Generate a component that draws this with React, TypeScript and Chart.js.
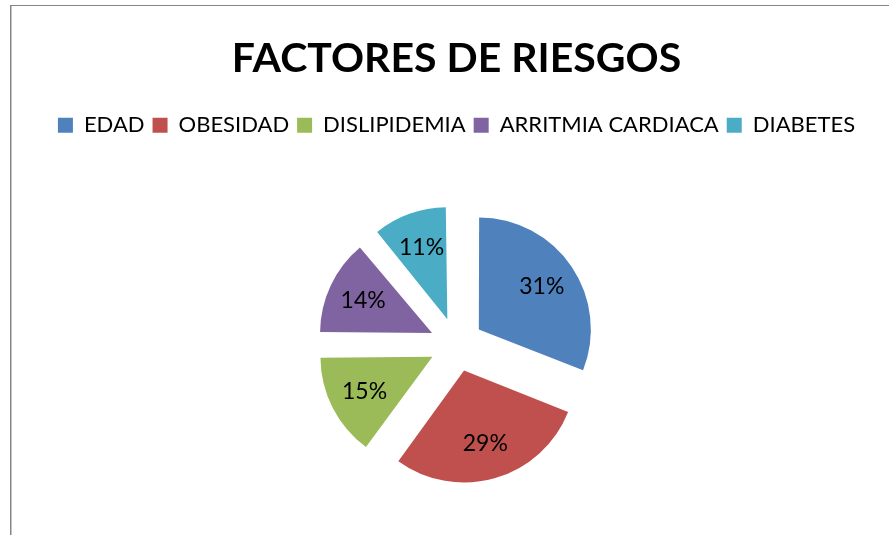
import React, { useEffect, useRef } from "react";
import { Chart, registerables } from "chart.js";

Chart.register(...registerables);

const TITLE = "FACTORES DE RIESGOS";
const categories = ["EDAD", "OBESIDAD", "DISLIPIDEMIA", "ARRITMIA CARDIACA", "DIABETES"];
const percentValues = [31, 29, 15, 14, 11];
const valueLabels = ["31%", "29%", "15%", "14%", "11%"];
const sliceColors = ["#4F81BD", "#C0504D", "#9BBB59", "#8064A2", "#4BACC6"];

const FONT = "Lato, 'Open Sans', sans-serif";

const framePlugin = {
  id: "frame",
  beforeDraw(chart: any) {
    const { ctx, width, height } = chart;
    ctx.save();
    ctx.fillStyle = "#ffffff";
    ctx.fillRect(0, 0, width, height);
    ctx.fillStyle = "#868686";
    ctx.fillRect(0, 5, width, 1);
    ctx.fillRect(0, 5, 1.5, height);
    ctx.restore();
  },
};

// Chart.js enlarges small exploded arcs (offset * (1 - sin(circumference)));
// compensate so every slice keeps the same visible radius.
const equalRadiusPlugin = {
  id: "equalRadius",
  beforeDatasetsDraw(chart: any) {
    const meta = chart.getDatasetMeta(0);
    const base = meta.controller.outerRadius;
    meta.data.forEach((arc: any) => {
      const circ = arc.circumference;
      const fix = 1 - Math.sin(Math.min(Math.PI, circ || 0));
      const shift = (arc.options.offset || 0) / 4;
      arc.outerRadius = base - shift * fix;
    });
  },
};

const sliceLabelPlugin = {
  id: "sliceLabels",
  afterDatasetsDraw(chart: any) {
    const meta = chart.getDatasetMeta(0);
    const base = meta.controller.outerRadius;
    const ctx = chart.ctx;
    ctx.save();
    ctx.font = `23px ${FONT}`;
    ctx.fillStyle = "#000000";
    ctx.textAlign = "center";
    ctx.textBaseline = "middle";
    meta.data.forEach((arc: any, i: number) => {
      const mid = (arc.startAngle + arc.endAngle) / 2;
      const shift = (arc.options.offset || 0) / 4;
      const r = shift + base * 0.68;
      ctx.fillText(valueLabels[i], arc.x + Math.cos(mid) * r, arc.y + Math.sin(mid) * r);
    });
    ctx.restore();
  },
};

export default function App() {
  const ref = useRef<HTMLCanvasElement | null>(null);

  useEffect(() => {
    if (!ref.current) return;
    const chart = new Chart(ref.current, {
      type: "pie",
      data: {
        labels: categories,
        datasets: [
          {
            data: percentValues,
            backgroundColor: sliceColors,
            borderWidth: 0,
            offset: 108,
          },
        ],
      },
      options: {
        responsive: false,
        animation: false,
        radius: 112,
        layout: { padding: { top: 0, bottom: 17, left: 0, right: 0 } },
        plugins: {
          title: {
            display: true,
            text: TITLE,
            color: "#000000",
            font: { family: FONT, size: 41, weight: "bold" },
            padding: { top: 34, bottom: 23 },
          },
          legend: {
            display: true,
            position: "top",
            labels: {
              color: "#000000",
              boxWidth: 15,
              boxHeight: 15,
              padding: 8,
              font: { family: FONT, size: 22 },
            },
          },
          tooltip: { enabled: false },
        },
      } as any,
      plugins: [framePlugin, equalRadiusPlugin, sliceLabelPlugin],
    });
    return () => chart.destroy();
  }, []);

  return (
    <div
      style={{
        position: "fixed",
        left: 0,
        top: 0,
        width: 889,
        height: 535,
        overflow: "hidden",
        background: "#ffffff",
      }}
    >
      <canvas
        ref={ref}
        width={893}
        height={560}
        style={{ position: "absolute", left: 10, top: 0, width: 893, height: 560 }}
      />
    </div>
  );
}
